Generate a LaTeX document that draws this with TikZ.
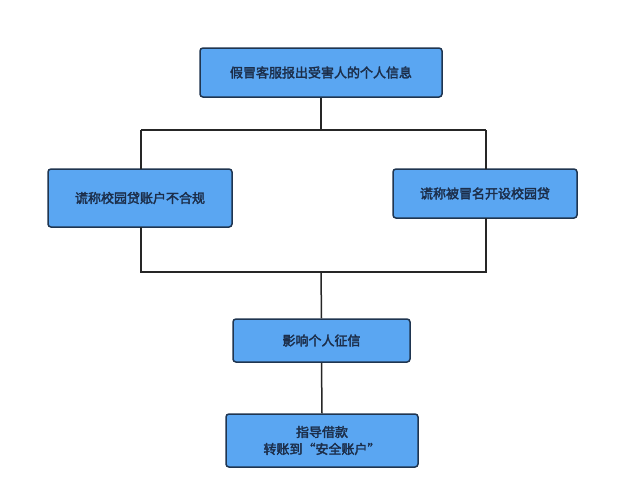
\documentclass[tikz,border=0pt]{standalone}
\usepackage{fontspec}
\newfontfamily\cjk{Noto Sans CJK SC}[FakeBold=2.5]
\definecolor{boxfill}{HTML}{5AA6F2}
\definecolor{boxline}{HTML}{1F3550}
\definecolor{txt}{HTML}{1C2E4A}
\begin{document}
\begin{tikzpicture}[x=1pt,y=-1pt,
  box/.style={draw=boxline,line width=1.5pt,fill=boxfill,rounded corners=3pt,
    text=txt,font=\cjk\fontsize{13}{17}\selectfont,align=center,inner sep=0pt},
  conn/.style={draw=black!85,line width=1.5pt}]
\useasboundingbox (0,0) rectangle (640,480);
\fill[white] (0,0) rectangle (640,480);
\node[box,minimum width=242pt,minimum height=49pt] (top) at (321,72.5) {假冒客服报出受害人的个人信息};
\node[box,minimum width=184pt,minimum height=58pt] (left) at (140,198) {谎称校园贷账户不合规};
\node[box,minimum width=184pt,minimum height=49pt] (right) at (485,193.5) {谎称被冒名开设校园贷};
\node[box,minimum width=177pt,minimum height=43pt] (mid) at (321.5,340.5) {影响个人征信};
\node[box,minimum width=192pt,minimum height=53pt] (bot) at (322,440.5) {指导借款\\转账到“安全账户”};
\coordinate (j1) at (321,130);
\coordinate (j2) at (321,272);
\draw[conn] (top.south) -- (j1);
\draw[conn] (141,130) -- (486,130);
\draw[conn] (141,130) -- (141,169);
\draw[conn] (486,130) -- (486,169);
\draw[conn] (141,227) -- (141,272) -- (486,272) -- (486,218);
\draw[conn] (j2) -- (mid.north);
\draw[conn] (mid.south) -- (bot.north);
\end{tikzpicture}
\end{document}
